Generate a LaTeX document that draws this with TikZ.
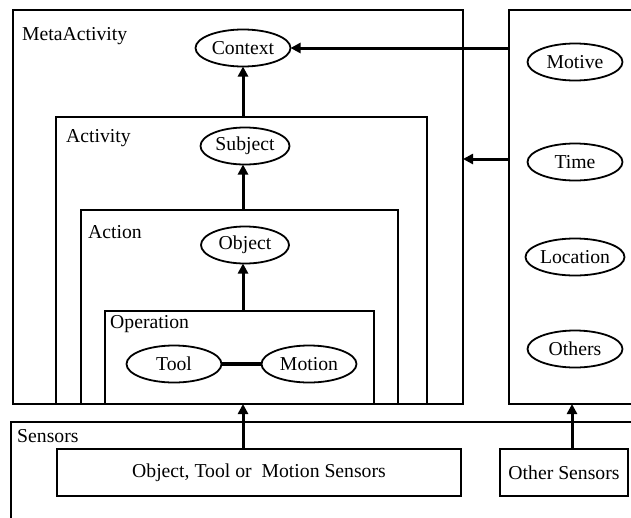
\documentclass[tikz,border=0pt]{standalone}
\usepackage{fontspec}
\setmainfont{Liberation Serif}
\usetikzlibrary{arrows.meta,shapes.geometric}
\begin{document}
\begin{tikzpicture}[x=1pt,y=-1pt,
  every node/.style={font=\rmfamily\fontsize{19.7}{22}\selectfont},
  box/.style={draw,line width=1.8pt,rectangle,inner sep=0pt,outer sep=0pt,anchor=north west},
  oval/.style={draw,line width=1.8pt,ellipse,inner sep=0pt,outer sep=0pt,minimum width=95pt,minimum height=37pt},
  lbl/.style={anchor=base west,inner sep=0pt},
  arr/.style={line width=3pt,-{Triangle[length=10pt,width=10pt]}},
  link/.style={line width=3.5pt}]
\useasboundingbox (0,0) rectangle (631,517);
\clip (0,0) rectangle (631,517);
% boxes
\node[box,minimum width=450pt,minimum height=394pt] (meta) at (13,10) {};
\node[box,minimum width=371pt,minimum height=287pt] (act) at (56,117) {};
\node[box,minimum width=317pt,minimum height=194pt] (action) at (81,210) {};
\node[box,minimum width=269pt,minimum height=93pt] (oper) at (105,311) {};
\node[box,minimum width=150pt,minimum height=394pt] (ctxbox) at (509,10) {};
\node[box,minimum width=650pt,minimum height=120pt] (sens) at (11,422) {};
\node[box,minimum width=404pt,minimum height=47pt] (otms) at (57,449) {};
\node[box,minimum width=128pt,minimum height=47pt] (osens) at (500,449) {};
\node[anchor=center,inner sep=0pt] (otmst) at (otms.center) {Object, Tool or\ \ Motion Sensors};
\node[anchor=center,inner sep=0pt] (osenst) at (osens.center) {Other Sensors};
% labels
\node[lbl] (lmeta) at (22,40) {MetaActivity};
\node[lbl] (lact) at (66,142) {Activity};
\node[lbl] (laction) at (88,238) {Action};
\node[lbl] (loper) at (110,328) {Operation};
\node[lbl] (lsens) at (17,442) {Sensors};
% ellipses
\node[oval] (ctx) at (243,48) {Context};
\node[oval,minimum width=89pt] (subj) at (245,146) {Subject};
\node[oval,minimum width=88pt] (obj) at (245,245) {Object};
\node[oval] (tool) at (174,364) {Tool};
\node[oval] (motion) at (309,364) {Motion};
\node[oval] (motive) at (575,62) {Motive};
\node[oval] (time) at (575,162) {Time};
\node[oval] (loc) at (575,257) {Location};
\node[oval] (others) at (575,349) {Others};
% connectors
\coordinate (tstart) at (509,159);
\draw[arr] (ctxbox.west |- ctx.east) -- (ctx.east);
\draw[arr] (tstart) -- (meta.east |- tstart);
\draw[arr] (act.north -| ctx) -- (ctx.south);
\draw[arr] (action.north -| ctx) -- (subj.south -| ctx);
\draw[arr] (oper.north -| ctx) -- (obj.south -| ctx);
\draw[link] (tool.east) -- (motion.west);
\draw[arr] (otms.north -| ctx) -- (meta.south -| ctx);
\coordinate (osx) at (572,449);
\draw[arr] (osx) -- (ctxbox.south -| osx);
\end{tikzpicture}
\end{document}
